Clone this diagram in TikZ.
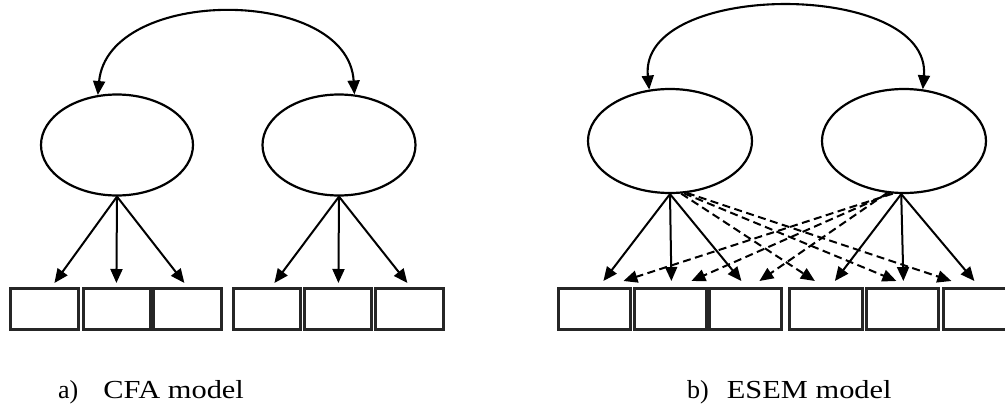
\documentclass[tikz,border=0pt]{standalone}
\usepackage{fontspec}
\setmainfont{Liberation Serif}
\usetikzlibrary{arrows.meta,shapes.geometric,calc}
\tikzset{
  latent/.style={draw, ellipse, line width=2.2pt, inner sep=0pt},
  obsbox/.style={draw=black!85, line width=2.8pt, minimum width=68pt, minimum height=41pt, inner sep=0pt, anchor=north west},
  load/.style={line width=2pt, -{Triangle[length=14pt,width=12pt]}},
  cross/.style={load, dash pattern=on 8pt off 4.5pt},
  corr/.style={line width=2.1pt, {Triangle[length=14pt,width=12pt]}-{Triangle[length=14pt,width=12pt]}},
  captext/.style={anchor=base west, font=\fontsize{26}{30}\selectfont, inner sep=0pt}
}
\begin{document}
\begin{tikzpicture}[x=1pt,y=-1pt]
\useasboundingbox (0,0) rectangle (1005,405);
% ---------- a) CFA ----------
\node[latent, minimum width=152pt, minimum height=101pt] (A1) at (117,145) {};
\node[latent, minimum width=153pt, minimum height=101pt] (A2) at (339,145) {};
\node[obsbox, minimum width=68pt] (a1) at (9,287) {};
\node[obsbox, minimum width=67pt] (a2) at (82,287) {};
\node[obsbox, minimum width=68pt] (a3) at (152,287) {};
\node[obsbox, minimum width=67pt] (a4) at (232,287) {};
\node[obsbox, minimum width=67pt] (a5) at (303,287) {};
\node[obsbox, minimum width=68pt] (a6) at (374,287) {};
\draw[corr] (A1.111) .. controls (108,-14) and (348,-14) .. (A2.73);
\draw[load] (A1.south) -- ([xshift=10pt,yshift=4pt]a1.north);
\draw[load] (A1.south) -- ([xshift=-0.5pt,yshift=4pt]a2.north);
\draw[load] (A1.south) -- ([xshift=-3pt,yshift=4pt]a3.north);
\draw[load] (A2.south) -- ([xshift=7.5pt,yshift=4pt]a4.north);
\draw[load] (A2.south) -- ([xshift=0.5pt,yshift=4pt]a5.north);
\draw[load] (A2.south) -- ([xshift=-2pt,yshift=4pt]a6.north);
\node[captext] (capa) at (58,398) {a)\hspace{25pt}\scalebox{1.17}[1]{CFA model}};
% ---------- b) ESEM ----------
\node[latent, minimum width=164pt, minimum height=104pt] (B1) at (670,141) {};
\node[latent, minimum width=164pt, minimum height=104pt] (B2) at (904,141) {};
\node[obsbox, minimum width=72pt] (b1) at (557,287) {};
\node[obsbox, minimum width=72pt] (b2) at (633,287) {};
\node[obsbox, minimum width=72pt] (b3) at (708,287) {};
\node[obsbox, minimum width=73pt] (b4) at (788,287) {};
\node[obsbox, minimum width=72pt] (b5) at (865,287) {};
\node[obsbox, minimum width=72pt] (b6) at (942,287) {};
\draw[corr] (B1.112) .. controls (638,-20) and (932,-20) .. (B2.70);
% cross loadings
\draw[cross] (B1.-78) -- ([xshift=-11pt,yshift=6pt]b4.north);
\draw[cross] (B1.-75) -- ([xshift=-6pt,yshift=6pt]b5.north);
\draw[cross] (B1.-72) -- ([xshift=-28pt,yshift=6pt]b6.north);
\draw[cross] (B2.-102) -- ([xshift=29pt,yshift=6pt]b1.north);
\draw[cross] (B2.-105) -- ([xshift=21pt,yshift=6pt]b2.north);
\draw[cross] (B2.-108) -- ([xshift=14pt,yshift=6pt]b3.north);
% main loadings
\draw[load] (B1.south) -- ([xshift=9pt,yshift=6pt]b1.north);
\draw[load] (B1.south) -- ([xshift=1pt,yshift=6pt]b2.north);
\draw[load] (B1.south) -- ([xshift=-4pt,yshift=6pt]b3.north);
\draw[load] (B2.-93) -- ([xshift=9pt,yshift=6pt]b4.north);
\draw[load] (B2.-93) -- ([xshift=1pt,yshift=6pt]b5.north);
\draw[load] (B2.-93) -- ([xshift=-5pt,yshift=6pt]b6.north);
\node[captext] (capb) at (687,398) {b)\hspace{18pt}\scalebox{1.17}[1]{ESEM model}};
\end{tikzpicture}
\end{document}
